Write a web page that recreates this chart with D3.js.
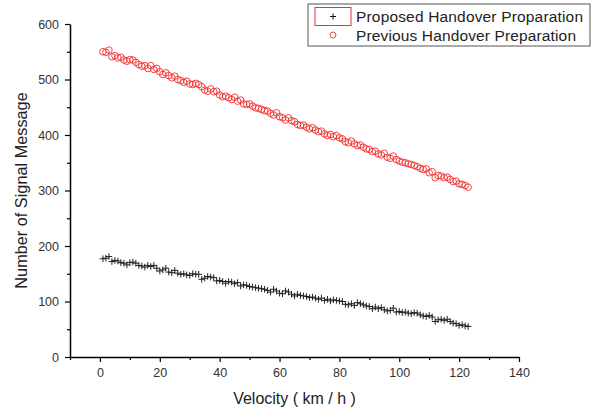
<!DOCTYPE html>
<html>
<head>
<meta charset="utf-8">
<script src="https://cdn.jsdelivr.net/npm/d3@7"></script>
<style>
  body { margin: 0; background: #fff; }
  svg { display: block; font-family: Arial, "Liberation Sans", sans-serif; }
</style>
</head>
<body>
<div id="chart"></div>
<script>
// Data
const velocity = d3.range(1, 124); // 1 .. 123 km/h

const previousValues = [
  550, 549, 553, 541, 543, 539, 540, 535, 533, 536,
  535, 531, 527, 524, 525, 520, 525, 518, 520, 514,
  509, 512, 507, 503, 506, 500, 498, 495, 497, 492,
  491, 493, 491, 487, 481, 479, 483, 478, 479, 472,
  469, 470, 467, 464, 468, 461, 463, 456, 455, 456,
  452, 449, 448, 446, 444, 443, 439, 436, 440, 433,
  431, 427, 431, 426, 424, 419, 417, 418, 414, 411,
  413, 409, 406, 407, 402, 399, 401, 397, 399, 395,
  393, 388, 386, 389, 384, 381, 382, 378, 375, 374,
  370, 371, 366, 364, 367, 360, 358, 362, 356, 353,
  351, 350, 348, 347, 345, 343, 340, 338, 339, 332,
  334, 323, 327, 326, 323, 324, 320, 316, 317, 312,
  311, 309, 306
];

const proposedValues = [
  177, 178, 181, 172, 174, 173, 170, 169, 166, 170,
  171, 169, 165, 164, 162, 165, 163, 165, 160, 155,
  157, 160, 153, 152, 156, 151, 149, 150, 148, 147,
  150, 149, 149, 140, 142, 145, 144, 143, 137, 138,
  136, 133, 136, 135, 132, 134, 128, 130, 129, 127,
  126, 125, 124, 123, 122, 120, 117, 122, 119, 115,
  114, 119, 117, 113, 110, 113, 111, 110, 109, 107,
  108, 106, 104, 106, 102, 104, 101, 103, 102, 101,
  100, 95, 94, 96, 93, 98, 96, 94, 92, 91,
  87, 90, 87, 89, 85, 83, 84, 88, 81, 82,
  80, 81, 79, 78, 80, 79, 76, 74, 73, 75,
  72, 64, 67, 68, 66, 68, 64, 61, 60, 57,
  58, 56, 55
];

const xTicks = [0, 20, 40, 60, 80, 100, 120, 140];
const xMinorTicks = [-10, 10, 30, 50, 70, 90, 110, 130];
const yTicks = [0, 100, 200, 300, 400, 500, 600];
const yMinorTicks = [50, 150, 250, 350, 450, 550];

const seriesNames = ['Proposed Handover Proparation', 'Previous Handover Preparation'];

// Layout
const W = 598, H = 412;
const margin = { top: 24, right: 79, bottom: 55, left: 70 };
const width = W - margin.left - margin.right;
const height = H - margin.top - margin.bottom;

const svg = d3.select('#chart')
  .append('svg')
  .attr('width', W)
  .attr('height', H);

const g = svg.append('g')
  .attr('transform', `translate(${margin.left},${margin.top})`);

// Scales
const x = d3.scaleLinear().domain([-10, 140]).range([0, width]);
const y = d3.scaleLinear().domain([0, 600]).range([height, 0]);

const red = '#f03030';

// Previous series: open circles
g.append('g')
  .selectAll('circle')
  .data(velocity.map((v, i) => ({ v, n: previousValues[i] })))
  .enter()
  .append('circle')
  .attr('cx', d => x(d.v))
  .attr('cy', d => y(d.n))
  .attr('r', 3.3)
  .attr('fill', 'none')
  .attr('stroke', red)
  .attr('stroke-width', 0.9);

// Proposed series: crosses
g.append('g')
  .selectAll('path')
  .data(velocity.map((v, i) => ({ v, n: proposedValues[i] })))
  .enter()
  .append('path')
  .attr('transform', d => `translate(${x(d.v)},${y(d.n)})`)
  .attr('d', 'M-3.3,0H3.3M0,-3.3V3.3')
  .attr('stroke', '#222')
  .attr('stroke-width', 1);

// Axes
function styleAxis(sel) {
  sel.select('.domain').attr('stroke', '#000').attr('stroke-width', 1.5);
  sel.selectAll('.tick line').attr('stroke', '#000').attr('stroke-width', 1.2);
  sel.selectAll('.tick text')
    .attr('fill', '#333')
    .attr('font-size', '12.5px')
    .attr('font-family', 'Arial, "Liberation Sans", sans-serif');
}

g.append('g')
  .attr('transform', `translate(0,${height})`)
  .call(d3.axisBottom(x).tickValues(xMinorTicks).tickSize(3).tickFormat(''))
  .call(sel => sel.select('.domain').remove())
  .call(styleAxis);

g.append('g')
  .attr('transform', `translate(0,${height})`)
  .call(d3.axisBottom(x).tickValues(xTicks).tickSize(5).tickPadding(6).tickSizeOuter(0))
  .call(styleAxis);

g.append('g')
  .call(d3.axisLeft(y).tickValues(yMinorTicks).tickSize(3).tickFormat(''))
  .call(sel => sel.select('.domain').remove())
  .call(styleAxis);

g.append('g')
  .call(d3.axisLeft(y).tickValues(yTicks).tickSize(5).tickPadding(6).tickSizeOuter(0))
  .call(styleAxis);

// Axis titles
svg.append('text')
  .attr('x', margin.left + width / 2)
  .attr('y', 404)
  .attr('text-anchor', 'middle')
  .attr('font-size', '16px')
  .attr('fill', '#222')
  .text('Velocity ( km / h )');

svg.append('text')
  .attr('transform', `translate(27,${margin.top + height / 2}) rotate(-90)`)
  .attr('text-anchor', 'middle')
  .attr('font-size', '16.3px')
  .attr('fill', '#222')
  .text('Number of Signal Message');

// Legend
const legend = svg.append('g').attr('transform', 'translate(308,4)');

legend.append('rect')
  .attr('width', 282)
  .attr('height', 42)
  .attr('fill', '#fff')
  .attr('stroke', '#555')
  .attr('stroke-width', 1);

legend.append('rect')
  .attr('x', 7)
  .attr('y', 3.5)
  .attr('width', 36)
  .attr('height', 18)
  .attr('fill', 'none')
  .attr('stroke', red)
  .attr('stroke-width', 1);

legend.append('path')
  .attr('transform', 'translate(25,12.5)')
  .attr('d', 'M-3,0H3M0,-3V3')
  .attr('stroke', '#111')
  .attr('stroke-width', 1);

legend.append('circle')
  .attr('cx', 25)
  .attr('cy', 31)
  .attr('r', 3)
  .attr('fill', 'none')
  .attr('stroke', red)
  .attr('stroke-width', 0.9);

seriesNames.forEach((name, i) => {
  legend.append('text')
    .attr('x', 48)
    .attr('y', 17.5 + i * 19)
    .attr('font-size', '15.5px')
    .attr('textLength', i === 0 ? 227 : 220)
    .attr('fill', '#222')
    .text(name);
});
</script>
</body>
</html>
